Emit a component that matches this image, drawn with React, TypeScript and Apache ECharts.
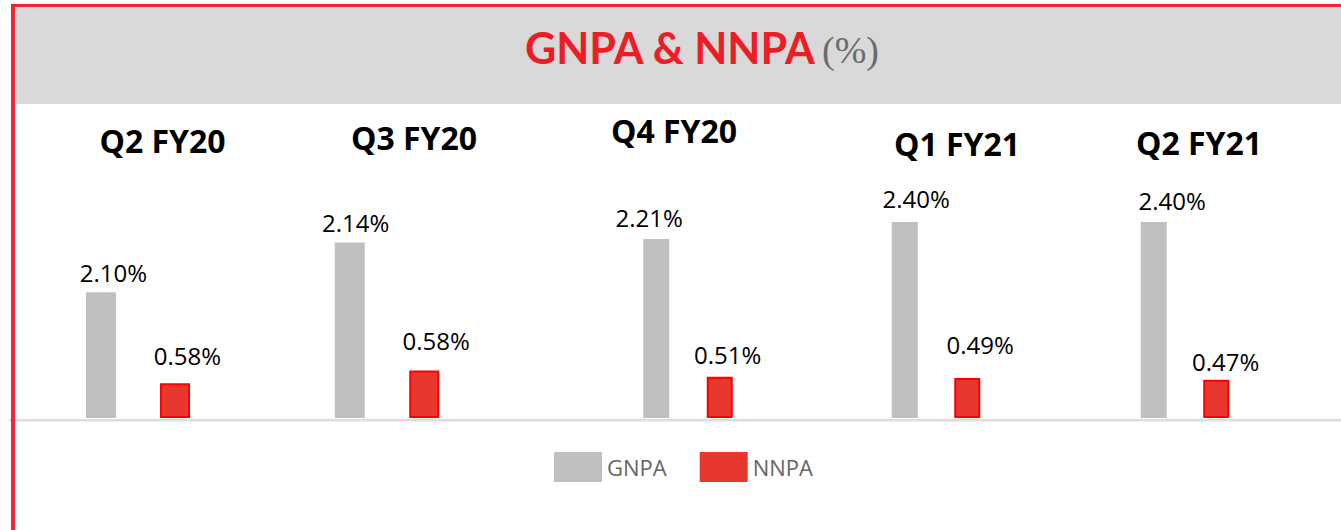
import React, { useEffect, useRef } from 'react';
import * as echarts from 'echarts';

// ---- data ----
const categories = ['Q2 FY20', 'Q3 FY20', 'Q4 FY20', 'Q1 FY21', 'Q2 FY21'];
const seriesNames = ['GNPA', 'NNPA'];
const gnpa = [2.10, 2.14, 2.21, 2.40, 2.40];
const nnpa = [0.58, 0.58, 0.51, 0.49, 0.47];
const chartTitle = 'GNPA & NNPA';
const chartUnit = '(%)';

// ---- layout (one small panel per quarter, as on the slide) ----
const panelMid = [138, 387, 688, 936, 1185];
const panelSpacing = [74, 74.5, 63.5, 62.5, 62.5];
const panelBarWidth = [30, 30, 26, 26, 26];
const panelAxisMax = [3.34, 2.44, 2.47, 2.45, 2.45];
const headingPos = [[162.5, 140], [414, 137], [674, 130], [957, 143], [1199, 142]];
const gnpaLabelOffset = [[12.5, 20], [6, 20], [-7, 22], [11.5, 24], [18.5, 22]];
const nnpaLabelOffset = [[12.5, 27], [12, 29], [8, 21], [13, 33], [9.5, 17]];

const GRID_TOP = 218;
const GRID_H = 200;
const SANS = '"Open Sans", "Noto Sans", sans-serif';

export default function App() {
  const ref = useRef<HTMLDivElement>(null);

  useEffect(() => {
    if (!ref.current) return;
    const chart = echarts.init(ref.current, null, { renderer: 'svg' });

    const grids: any[] = [];
    const xAxes: any[] = [];
    const yAxes: any[] = [];
    const series: any[] = [];
    const fmt = (p: any) => Number(p.value).toFixed(2) + '%';
    const labelBase = {
      show: true,
      position: 'top',
      distance: 0,
      formatter: fmt,
      fontSize: 24,
      fontFamily: SANS,
      color: '#000',
    };

    categories.forEach((cat, i) => {
      const w = panelBarWidth[i];
      const gap = ((panelSpacing[i] - w) / w) * 100 + '%';
      grids.push({ left: panelMid[i] - 80, width: 160, top: GRID_TOP, height: GRID_H });
      xAxes.push({ type: 'category', gridIndex: i, data: [cat], show: false });
      yAxes.push({ type: 'value', gridIndex: i, min: 0, max: panelAxisMax[i], show: false, splitLine: { show: false } });
      series.push({
        type: 'bar',
        name: seriesNames[0],
        xAxisIndex: i,
        yAxisIndex: i,
        barWidth: w,
        barGap: gap,
        itemStyle: { color: '#bfbfbf' },
        label: labelBase,
        data: [{ value: gnpa[i], label: { offset: [gnpaLabelOffset[i][0], -(gnpaLabelOffset[i][1] - 12)] } }],
      });
      series.push({
        type: 'bar',
        name: seriesNames[1],
        xAxisIndex: i,
        yAxisIndex: i,
        barWidth: w,
        barGap: gap,
        itemStyle: { color: '#e8372f', borderColor: '#ff0000', borderWidth: 2 },
        label: labelBase,
        data: [{ value: nnpa[i], label: { offset: [nnpaLabelOffset[i][0], -(nnpaLabelOffset[i][1] + 1 - 12)] } }],
      });
    });

    const graphic: any[] = [
      { type: 'rect', z: -10, shape: { x: 16, y: 7, width: 1325, height: 97 }, style: { fill: '#d9d9d9' } },
      { type: 'rect', z: -9, shape: { x: 9, y: 419, width: 1332, height: 2.5 }, style: { fill: '#dedede' } },
      { type: 'rect', z: -8, shape: { x: 11, y: 4, width: 1330, height: 3 }, style: { fill: '#ef2630' } },
      { type: 'rect', z: -8, shape: { x: 11, y: 4, width: 4, height: 526 }, style: { fill: '#ef2630' } },
      {
        type: 'text', x: 525, y: 47,
        style: { text: chartTitle, fill: '#ee1c25', fontSize: 43, fontWeight: 'bold', fontFamily: 'Lato, "Open Sans", sans-serif', textAlign: 'left', textVerticalAlign: 'middle' },
      },
      {
        type: 'text', x: 822, y: 50,
        style: { text: chartUnit, fill: '#6b6b6b', fontSize: 38, fontFamily: '"Liberation Serif", serif', textAlign: 'left', textVerticalAlign: 'middle' },
      },
      ...categories.map((cat, i) => ({
        type: 'text', x: headingPos[i][0], y: headingPos[i][1],
        style: { text: cat, fill: '#000', fontSize: 32, fontWeight: 'bold', fontFamily: SANS, textAlign: 'center', textVerticalAlign: 'middle' },
      })),
    ];

    chart.setOption({
      animation: false,
      backgroundColor: '#ffffff',
      grid: grids,
      xAxis: xAxes,
      yAxis: yAxes,
      series,
      graphic,
      legend: {
        data: seriesNames,
        left: 549,
        top: 447,
        itemWidth: 48,
        itemHeight: 30,
        itemGap: 33,
        icon: 'rect',
        itemStyle: { borderWidth: 0 },
        textStyle: { fontSize: 22, color: '#666666', fontFamily: SANS, padding: [10, 0, 0, 0] },
      },
    });

    return () => chart.dispose();
  }, []);

  return <div ref={ref} style={{ position: 'fixed', left: 0, top: 0, width: 1341, height: 530 }} />;
}
